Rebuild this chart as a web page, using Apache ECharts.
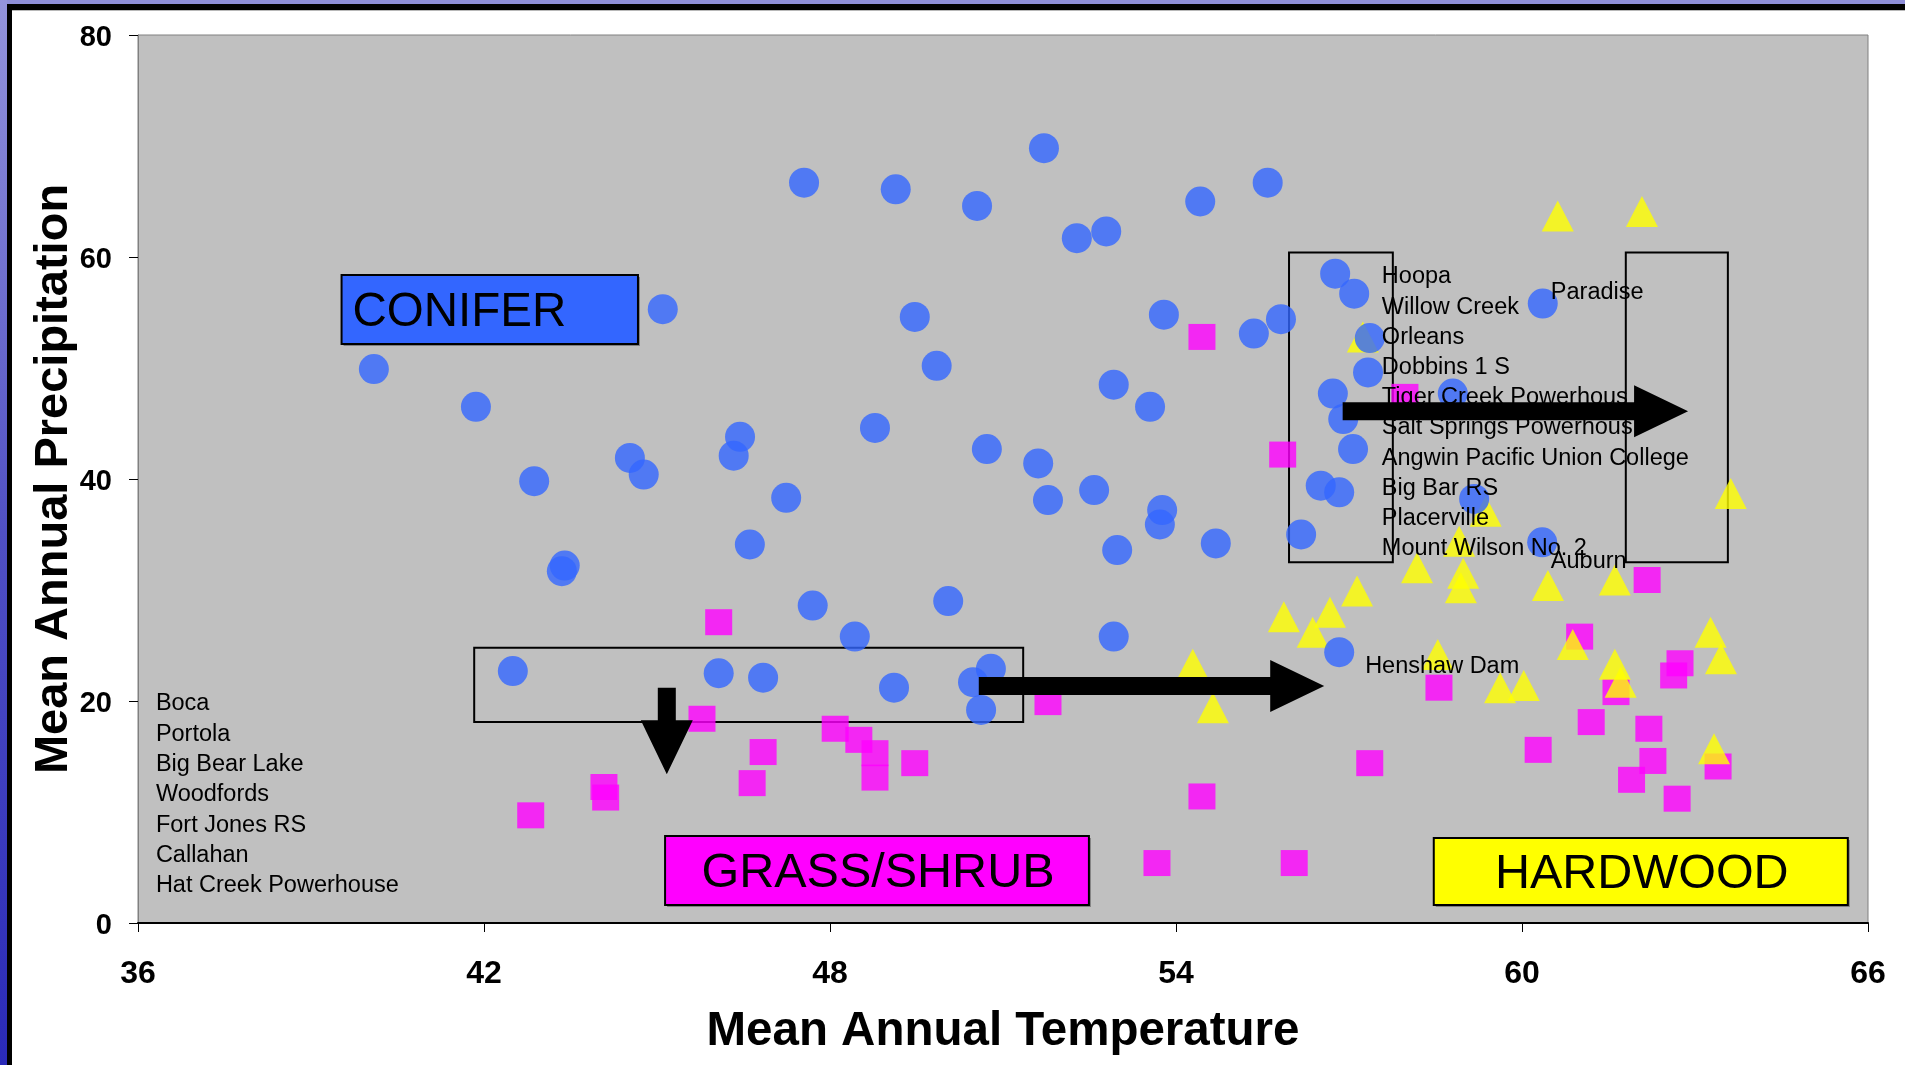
<!DOCTYPE html>
<html>
<head>
<meta charset="utf-8">
<script src="https://cdn.jsdelivr.net/npm/echarts@6/dist/echarts.min.js"></script>
<style>
html,body{margin:0;padding:0;background:#fff;}
#chart{width:1905px;height:1065px;}
</style>
</head>
<body>
<div id="chart"></div>
<script>
// ---- data (Mean Annual Temperature, Mean Annual Precipitation) ----
var coniferPts = [
  [40.09,49.9],[41.86,46.5],[42.87,39.8],[43.40,32.2],[43.35,31.7],[45.10,55.3],
  [44.53,41.9],[44.77,40.4],[42.50,22.7],[46.44,43.8],[46.33,42.1],[48.78,44.6],
  [47.24,38.3],[50.72,42.7],[51.61,41.4],[51.78,38.1],[52.58,39.0],[53.76,37.2],
  [53.72,35.9],[54.69,34.2],[52.98,33.6],[46.61,34.1],[53.55,46.5],[47.70,28.6],
  [50.05,29.0],[48.43,25.8],[52.92,25.8],[46.07,22.5],[46.84,22.1],[49.11,21.2],
  [50.79,22.9],[50.48,21.7],[50.62,19.2],[47.55,66.7],[49.14,66.1],[50.55,64.6],
  [51.71,69.8],[52.28,61.7],[52.79,62.3],[54.42,65.0],[55.59,66.7],[49.47,54.6],
  [49.85,50.2],[53.79,54.8],[55.35,53.1],[55.82,54.4],[52.92,48.5],[56.76,58.5],
  [57.09,56.7],[60.36,55.8],[57.36,52.7],[57.33,49.6],[56.72,47.7],[58.80,47.7],
  [56.90,45.4],[57.07,42.7],[56.51,39.4],[56.83,38.8],[56.17,35.0],[59.17,38.2],
  [60.35,34.3],[56.83,24.4]
];
var grassPts = [
  [54.45,52.8],[57.97,47.4],[55.85,42.2],[62.17,30.9],[46.07,27.1],[61.00,25.8],
  [62.74,23.4],[62.63,22.3],[58.56,21.2],[61.63,20.8],[51.78,19.9],[45.78,18.4],
  [61.20,18.1],[48.09,17.5],[62.20,17.5],[48.50,16.5],[60.28,15.6],[46.84,15.4],
  [48.78,15.3],[62.27,14.6],[49.47,14.4],[57.36,14.4],[63.40,14.1],[48.78,13.1],
  [61.90,12.9],[46.65,12.6],[44.08,12.25],[54.45,11.4],[44.11,11.3],[62.69,11.2],
  [42.81,9.7],[53.67,5.4],[56.05,5.4]
];
var hardwoodPts = [
  [60.62,63.7],[62.08,64.1],[57.24,52.8],[59.37,37.1],[58.91,34.4],[63.62,38.7],
  [58.18,32.0],[58.98,31.5],[58.94,30.2],[57.14,29.9],[60.45,30.4],[61.61,30.9],
  [56.67,28.0],[55.87,27.6],[56.37,26.2],[60.88,25.1],[58.54,24.2],[63.27,26.2],
  [63.45,23.8],[61.61,23.3],[61.71,21.7],[59.62,21.2],[60.03,21.4],[54.29,23.3],
  [54.64,19.4],[63.33,15.7]
];
// station-name annotations: [x, y] anchor and text
var stationNames = [
  'Hoopa','Willow Creek','Orleans','Dobbins 1 S','Tiger Creek Powerhous',
  'Salt Springs Powerhous','Angwin Pacific Union College','Big Bar RS','Placerville','Mount Wilson No. 2',
  'Paradise','Auburn','Henshaw Dam',
  'Boca','Portola','Big Bear Lake','Woodfords','Fort Jones RS','Callahan','Hat Creek Powerhouse'
];
var stationPos = [
  [57.57,58.20],[57.57,55.48],[57.57,52.76],[57.57,50.04],[57.57,47.32],
  [57.57,44.60],[57.57,41.88],[57.57,39.16],[57.57,36.44],[57.57,33.72],
  [60.50,56.76],[60.50,32.57],[57.28,23.11],
  [36.31,19.73],[36.31,17.00],[36.31,14.27],[36.31,11.54],[36.31,8.81],[36.31,6.08],[36.31,3.35]
];
// outline boxes [x1,y1,x2,y2]
var outlineBoxes = [[41.83,18.1,51.35,24.8],[55.96,32.5,57.76,60.4],[61.80,32.5,63.57,60.4]];
// arrows [xStart,yStart,xEnd,yEnd]
var arrows = [[45.17,21.2,45.17,13.4],[50.58,21.35,56.57,21.35],[56.89,46.1,62.88,46.1]];
// vegetation class boxes
var classNames = ['CONIFER','GRASS/SHRUB','HARDWOOD'];
var classBoxes = [[39.53,58.38,44.67,52.16],[45.14,7.84,52.49,1.62],[58.47,7.66,65.65,1.62]];
var classColors = ['#3366FF','#FF00FF','#FFFF00'];
var classFontSizes = [47.5, 48.5, 48.5];
var xTicks = {min:36, max:66, interval:6};
var yTicks = {min:0, max:80, interval:20};

var FONT = '"Liberation Sans", Arial, sans-serif';
var chart = echarts.init(document.getElementById('chart'), null, {renderer:'canvas'});

var option = {
  backgroundColor:'#ffffff',
  animation:false,
  graphic:[
    {type:'rect', z:0, shape:{x:0,y:0,width:1905,height:4}, style:{fill:'#8e8ed8'}},
    {type:'rect', z:0, shape:{x:0,y:0,width:7,height:1065}, style:{fill:new echarts.graphic.LinearGradient(0,0,0,1,[{offset:0,color:'#9494dc'},{offset:0.5,color:'#5050c4'},{offset:1,color:'#2a2ab8'}])}},
    {type:'rect', z:0, shape:{x:7,y:4,width:1898,height:6}, style:{fill:'#000'}},
    {type:'rect', z:0, shape:{x:7,y:4,width:5,height:1061}, style:{fill:'#000'}},
    {type:'rect', z:0, shape:{x:12,y:10,width:1893,height:1}, style:{fill:'#b8b8b8'}}
  ],
  grid:{left:138, top:35, right:37, bottom:142, show:true, backgroundColor:'#C0C0C0', borderColor:'#808080', borderWidth:1},
  xAxis:{
    type:'value', min:xTicks.min, max:xTicks.max, interval:xTicks.interval,
    name:'Mean Annual Temperature', nameLocation:'middle', nameGap:85, nameMoveOverlap:false,
    nameTextStyle:{fontFamily:FONT, fontWeight:'bold', fontSize:47.5, color:'#000'},
    axisLine:{show:true, onZero:false, lineStyle:{color:'#000', width:2}},
    axisTick:{show:true, length:9, lineStyle:{color:'#000'}},
    axisLabel:{margin:35, fontFamily:FONT, fontWeight:'bold', fontSize:32, color:'#000'},
    splitLine:{show:false}
  },
  yAxis:{
    type:'value', min:yTicks.min, max:yTicks.max, interval:yTicks.interval,
    name:'Mean Annual Precipitation', nameLocation:'middle', nameGap:60, nameRotate:90, nameMoveOverlap:false,
    nameTextStyle:{fontFamily:FONT, fontWeight:'bold', fontSize:47, color:'#000'},
    axisLine:{show:true, lineStyle:{color:'#808080', width:1}},
    axisTick:{show:true, length:9, lineStyle:{color:'#000'}},
    axisLabel:{margin:26, color:'#000', fontFamily:FONT, fontWeight:'bold', fontSize:29,
      verticalAlign:'top', lineHeight:6},
    splitLine:{show:false}
  },
  series:[
    {
      type:'custom', name:'outlines', z:1, data:outlineBoxes,
      renderItem:function(params, api){
        var p1 = api.coord([api.value(0), api.value(1)]);
        var p2 = api.coord([api.value(2), api.value(3)]);
        return {type:'rect', shape:{x:Math.min(p1[0],p2[0]), y:Math.min(p1[1],p2[1]), width:Math.abs(p2[0]-p1[0]), height:Math.abs(p2[1]-p1[1])},
          style:{fill:null, stroke:'#000', lineWidth:2}};
      }
    },
    {type:'scatter', name:'GRASS/SHRUB', z:2, symbol:'rect', symbolSize:[27,26], itemStyle:{color:'#FF00FF'}, data:grassPts},
    {type:'scatter', name:'HARDWOOD', z:3, symbol:'triangle', symbolSize:[32,31], itemStyle:{color:'#FFFF00'}, data:hardwoodPts},
    {type:'scatter', name:'CONIFER', z:4, symbol:'circle', symbolSize:30, itemStyle:{color:'#3366FF'}, data:coniferPts},
    {
      type:'custom', name:'stations', z:5, data:stationPos,
      renderItem:function(params, api){
        var p = api.coord([api.value(0), api.value(1)]);
        return {type:'text', style:{text:stationNames[params.dataIndex], x:p[0], y:p[1], fill:'#000',
          fontFamily:FONT, fontSize:23.5, align:'left', verticalAlign:'middle'}};
      }
    },
    {
      type:'custom', name:'arrows', z:6, data:arrows,
      renderItem:function(params, api){
        var a = api.coord([api.value(0), api.value(1)]);
        var b = api.coord([api.value(2), api.value(3)]);
        var dx = b[0]-a[0], dy = b[1]-a[1];
        var L = Math.sqrt(dx*dx+dy*dy);
        var ux = dx/L, uy = dy/L, nx = -uy, ny = ux;
        var sw = 9, hw = 26, hl = 54;
        var hx = b[0]-ux*hl, hy = b[1]-uy*hl;
        var pts = [
          [a[0]+nx*sw, a[1]+ny*sw],[hx+nx*sw, hy+ny*sw],[hx+nx*hw, hy+ny*hw],[b[0],b[1]],
          [hx-nx*hw, hy-ny*hw],[hx-nx*sw, hy-ny*sw],[a[0]-nx*sw, a[1]-ny*sw]
        ];
        return {type:'polygon', shape:{points:pts}, style:{fill:'#000'}};
      }
    },
    {
      type:'custom', name:'classes', z:7, data:classBoxes,
      renderItem:function(params, api){
        var i = params.dataIndex;
        var p1 = api.coord([api.value(0), api.value(1)]);
        var p2 = api.coord([api.value(2), api.value(3)]);
        var x = Math.min(p1[0],p2[0]), y = Math.min(p1[1],p2[1]);
        var w = Math.abs(p2[0]-p1[0]), h = Math.abs(p2[1]-p1[1]);
        var left = (i === 0);
        return {type:'group', children:[
          {type:'rect', shape:{x:x+2,y:y+2,width:w,height:h}, style:{fill:'#808080'}},
          {type:'rect', shape:{x:x,y:y,width:w,height:h}, style:{fill:classColors[i], stroke:'#000', lineWidth:2}},
          {type:'text', style:{text:classNames[i], x: left ? x+11 : x+w/2+1, y:y+h/2+3, fill:'#000',
            fontFamily:FONT, fontSize:classFontSizes[i], align: left ? 'left' : 'center', verticalAlign:'middle'}}
        ]};
      }
    }
  ]
};
chart.setOption(option);
</script>
</body>
</html>
